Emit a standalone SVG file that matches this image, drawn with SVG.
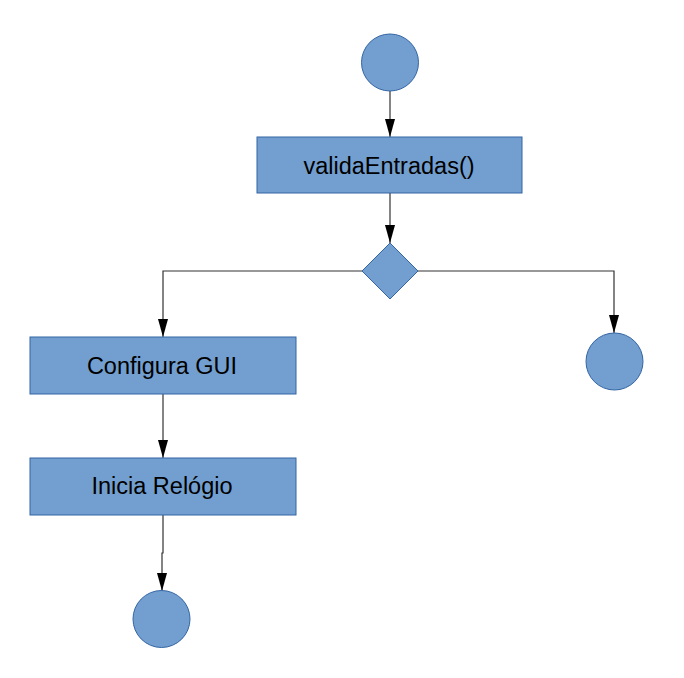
<svg xmlns="http://www.w3.org/2000/svg" width="684" height="678" viewBox="0 0 684 678">
<style>
.n{fill:#729fcf;stroke:#3465a4;stroke-width:1}
.t{font-family:"Liberation Sans",Arial,sans-serif;font-size:23.5px;fill:#000;text-anchor:middle}
.c{fill:none;stroke:#333;stroke-width:1.2}
</style>
<defs>
<marker id="ah" viewBox="0 0 18 10" refX="18" refY="5" markerWidth="18" markerHeight="10" markerUnits="userSpaceOnUse" orient="auto">
<path d="M0,0 L18,5 L0,10 Z" fill="#000"/>
</marker>
</defs>
<rect width="684" height="678" fill="#fff"/>
<g id="connectors">
<path class="c" d="M390,91 V137" marker-end="url(#ah)"/>
<path class="c" d="M390,193 V243" marker-end="url(#ah)"/>
<path class="c" d="M362,271 H163 V337" marker-end="url(#ah)"/>
<path class="c" d="M418,271 H614 V333" marker-end="url(#ah)"/>
<path class="c" d="M163,394 V458" marker-end="url(#ah)"/>
<path class="c" d="M163,515 V553 H162 V591" marker-end="url(#ah)"/>
</g>
<g id="start"><circle class="n" cx="390" cy="62.5" r="28.5"/></g>
<g id="valida"><rect class="n" x="257" y="137" width="265" height="56"/><text class="t" x="389" y="174">validaEntradas()</text></g>
<g id="decision"><path class="n" d="M390,243 L418,271 L390,299 L362,271 Z"/></g>
<g id="end-right"><circle class="n" cx="614.5" cy="361.5" r="28.5"/></g>
<g id="configura"><rect class="n" x="30" y="337" width="266" height="57"/><text class="t" x="162" y="373.5">Configura GUI</text></g>
<g id="inicia"><rect class="n" x="30" y="458" width="266" height="57"/><text class="t" x="162" y="494">Inicia Relógio</text></g>
<g id="end-bottom"><circle class="n" cx="161.5" cy="619" r="28.5"/></g>
</svg>
